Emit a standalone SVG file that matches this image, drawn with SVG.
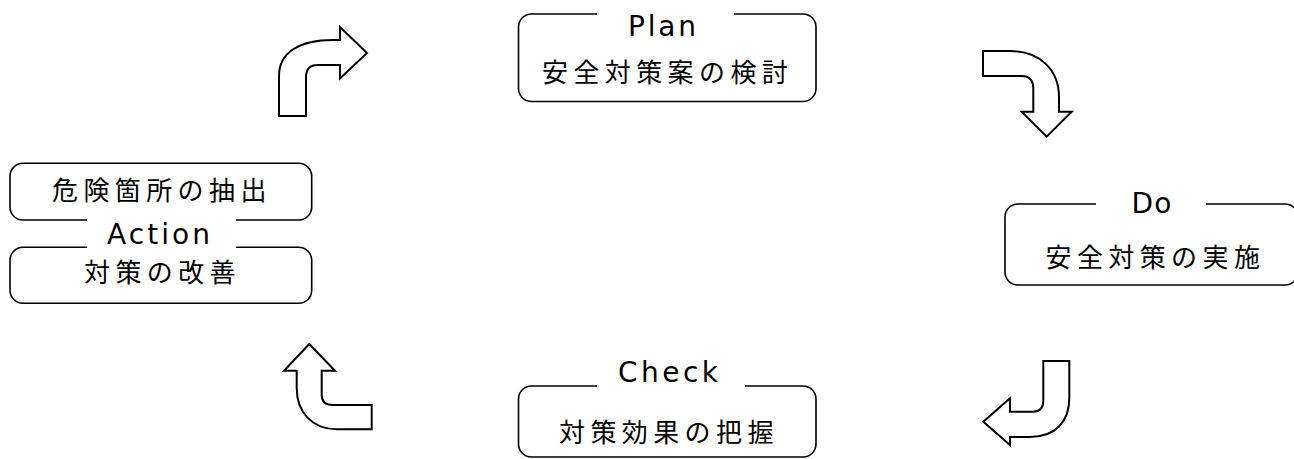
<svg xmlns="http://www.w3.org/2000/svg" width="1294" height="459" viewBox="0 0 1294 459">
<style>
.box{fill:none;stroke:#000;stroke-width:1.6;stroke-linecap:butt}
.arr{fill:#fff;stroke:#000;stroke-width:2;stroke-linejoin:miter}
.lat{font-family:"DejaVu Sans","Liberation Sans",sans-serif;font-size:28px;fill:#000}
.jp{font-family:"Noto Sans CJK JP","Noto Sans CJK SC",sans-serif;font-size:26px;letter-spacing:5.4px;fill:#000}
</style>
<rect width="1294" height="459" fill="#fff"/>
<g id="plan">
<path class="box" d="M597,14 H531.5 A13,13 0 0 0 518.5,27 V88.5 A13,13 0 0 0 531.5,101.5 H803 A13,13 0 0 0 816,88.5 V27 A13,13 0 0 0 803,14 H734"/>
<text class="lat" x="628" y="36" textLength="68" lengthAdjust="spacing">Plan</text>
<text class="jp" x="542" y="81.5">安全対策案の検討</text>
</g>
<g id="do">
<path class="box" d="M1096,204 H1018 A13,13 0 0 0 1005,217 V272 A13,13 0 0 0 1018,285 H1285 A13,13 0 0 0 1298,272 V217 A13,13 0 0 0 1285,204 H1206"/>
<text class="lat" x="1131.5" y="213" textLength="40" lengthAdjust="spacing">Do</text>
<text class="jp" x="1045.5" y="266.5">安全対策の実施</text>
</g>
<g id="check">
<path class="box" d="M597,386 H531.5 A13,13 0 0 0 518.5,399 V444 A13,13 0 0 0 531.5,457 H803 A13,13 0 0 0 816,444 V399 A13,13 0 0 0 803,386 H745"/>
<text class="lat" x="618" y="382" textLength="100" lengthAdjust="spacing">Check</text>
<text class="jp" x="559" y="441.5">対策効果の把握</text>
</g>
<g id="action">
<path class="box" d="M87,220 H23 A13,13 0 0 1 10,207 V176.3 A13,13 0 0 1 23,163.3 H298.7 A13,13 0 0 1 311.7,176.3 V207 A13,13 0 0 1 298.7,220 H236"/>
<path class="box" d="M87,247.3 H23 A13,13 0 0 0 10,260.3 V290.3 A13,13 0 0 0 23,303.3 H298.7 A13,13 0 0 0 311.7,290.3 V260.3 A13,13 0 0 0 298.7,247.3 H236"/>
<text class="lat" x="107" y="243.5" textLength="103" lengthAdjust="spacing">Action</text>
<text class="jp" x="52" y="200">危険箇所の抽出</text>
<text class="jp" x="84" y="282">対策の改善</text>
</g>
<g id="connectors">
<path class="arr" d="M279,116 V76 C279,52 300,40 333,40 H340 V27 L367,53 L340,78.5 V65 H318 Q306,65 306,77 V116 Z"/>
<path class="arr" d="M983,51 H1010 C1040,51 1059,70 1059,97 V111.7 H1071.7 L1046.7,136.7 L1021.7,111.7 H1033.3 V89 Q1033.3,76 1022,76 H983 Z"/>
<path class="arr" d="M1043.3,361 H1069.3 V398 C1069.3,422 1055,437 1030,437 H1010 V445 L983.3,421.7 L1010,398.3 V411.7 H1033 Q1043.3,411.7 1043.3,401 Z"/>
<path class="arr" d="M309.3,344 L335,370.7 H321.7 V395 Q321.7,405 333,405 H371.7 V429.3 H337 C312,429.3 296.7,412 296.7,388 V370.7 H284 Z"/>
</g>
</svg>
